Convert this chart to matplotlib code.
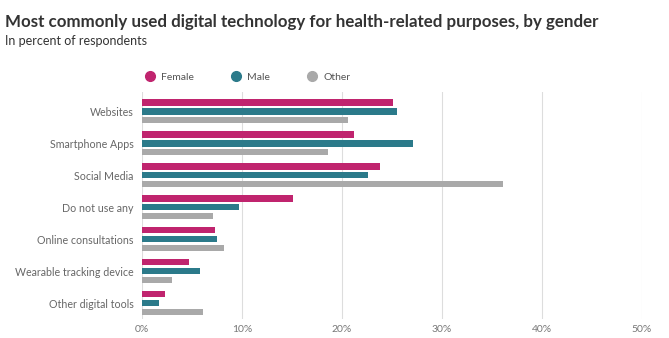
import matplotlib
matplotlib.use("Agg")
import matplotlib.pyplot as plt
import numpy as np
from matplotlib.lines import Line2D

plt.rcParams["font.family"] = ["Lato", "DejaVu Sans"]

categories = [
    "Websites",
    "Smartphone Apps",
    "Social Media",
    "Do not use any",
    "Online consultations",
    "Wearable tracking device",
    "Other digital tools",
]
female = [25.1, 21.2, 23.8, 15.1, 7.3, 4.7, 2.3]
male = [25.5, 27.1, 22.6, 9.7, 7.5, 5.8, 1.7]
other = [20.6, 18.6, 36.1, 7.1, 8.2, 3.0, 6.1]
series_names = ["Female", "Male", "Other"]
colors = ["#c0246e", "#2b7a8a", "#a9a9a9"]
xticks = [0, 10, 20, 30, 40, 50]

W, H = 669, 338
fig = plt.figure(figsize=(W / 100, H / 100), dpi=100)
ax = fig.add_axes([142 / W, 19 / H, 500 / W, 227 / H])

y = np.arange(len(categories))
bh = 0.21
offsets = [-0.28, 0.0, 0.28]
for vals, off, col in zip([female, male, other], offsets, colors):
    ax.barh(y + off, vals, height=bh, color=col, zorder=3)

ax.set_ylim(6.5, -0.6)
ax.set_xlim(0, 50)
ax.set_xticks(xticks)
ax.set_xticklabels([f"{t}%" for t in xticks], fontsize=7.5, color="#777777")
ax.set_yticks(y)
ax.set_yticklabels(categories, fontsize=7.7, color="#666666")
ax.tick_params(axis="both", length=0)
ax.tick_params(axis="y", pad=6)
ax.tick_params(axis="x", pad=4)
ax.grid(axis="x", color="#dddddd", linewidth=0.8, zorder=0)
for s in ax.spines.values():
    s.set_visible(False)

handles = [
    Line2D([], [], marker="o", linestyle="", markersize=7, color=c, label=n)
    for n, c in zip(series_names, colors)
]
fig.legend(
    handles=handles, loc="center left", bbox_to_anchor=(130 / W, 1 - 77 / H),
    ncol=3, frameon=False, fontsize=7.5, handletextpad=0.1, columnspacing=3.0,
    labelcolor="#555555",
)

fig.text(5 / W, 1 - 22 / H,
         "Most commonly used digital technology for health-related purposes, by gender",
         fontsize=12.2, fontweight="bold", color="#333333", va="center")
fig.text(5 / W, 1 - 41 / H, "In percent of respondents",
         fontsize=9, color="#333333", va="center")

fig.savefig("out.png", dpi=100, facecolor="white")
